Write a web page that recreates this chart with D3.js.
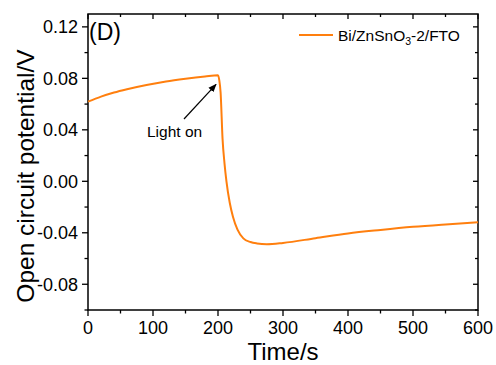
<!DOCTYPE html>
<html>
<head>
<meta charset="utf-8">
<script src="https://d3js.org/d3.v7.min.js"></script>
<style>
  body { margin: 0; background: #fff; }
  svg { display: block; font-family: "Liberation Sans", Arial, sans-serif; }
</style>
</head>
<body>
<div id="chart"></div>
<script>
// data
const time = [0, 20, 40, 60, 90, 120, 150, 180, 200, 202, 204, 207, 210, 213, 218, 223, 230, 239, 250, 260, 275, 300, 350, 400, 450, 500, 550, 600];
const potential = [0.0619, 0.0658, 0.0690, 0.0716, 0.0749, 0.0776, 0.0797, 0.0815, 0.0825, 0.0785, 0.0690, 0.0330, 0.0140, 0.0000, -0.0165, -0.0275, -0.0375, -0.0443, -0.0472, -0.0483, -0.0489, -0.0479, -0.0442, -0.0405, -0.0378, -0.0354, -0.0335, -0.0318];
const xTicks = [0, 100, 200, 300, 400, 500, 600];
const yTicks = [-0.08, -0.04, 0.00, 0.04, 0.08, 0.12];

const W = 496, H = 365;
const m = { left: 88, right: 18, top: 14, bottom: 55 };

const svg = d3.select("#chart").append("svg")
    .attr("width", W)
    .attr("height", H);

const x = d3.scaleLinear().domain([0, 600]).range([m.left, W - m.right]);
const y = d3.scaleLinear().domain([-0.10, 0.13]).range([H - m.bottom, m.top]);

const x0 = x.range()[0], x1 = x.range()[1];
const y0 = y.range()[0], y1 = y.range()[1];

// minor ticks
const xMinor = d3.range(50, 600, 100);
const yMinor = d3.range(-0.10, 0.13, 0.04).map(d => +(d).toFixed(2));

const g = svg.append("g").attr("stroke", "#000").attr("stroke-width", 1.3);

// bottom axis ticks (outward)
xTicks.forEach(t => g.append("line").attr("x1", x(t)).attr("x2", x(t)).attr("y1", y0).attr("y2", y0 + 6));
xMinor.forEach(t => g.append("line").attr("x1", x(t)).attr("x2", x(t)).attr("y1", y0).attr("y2", y0 + 3.5));
// top ticks (inward)
xTicks.forEach(t => g.append("line").attr("x1", x(t)).attr("x2", x(t)).attr("y1", y1).attr("y2", y1 + 5));
xMinor.forEach(t => g.append("line").attr("x1", x(t)).attr("x2", x(t)).attr("y1", y1).attr("y2", y1 + 3));
// left ticks (outward)
yTicks.forEach(t => g.append("line").attr("x1", x0 - 6).attr("x2", x0).attr("y1", y(t)).attr("y2", y(t)));
yMinor.forEach(t => g.append("line").attr("x1", x0 - 3.5).attr("x2", x0).attr("y1", y(t)).attr("y2", y(t)));
// right ticks (inward)
yTicks.forEach(t => g.append("line").attr("x1", x1 - 5).attr("x2", x1).attr("y1", y(t)).attr("y2", y(t)));
yMinor.forEach(t => g.append("line").attr("x1", x1 - 3).attr("x2", x1).attr("y1", y(t)).attr("y2", y(t)));

// frame
svg.append("rect")
    .attr("x", x0).attr("y", y1)
    .attr("width", x1 - x0).attr("height", y0 - y1)
    .attr("fill", "none").attr("stroke", "#000").attr("stroke-width", 1.5);

// tick labels
svg.append("g").selectAll("text")
    .data(xTicks)
    .enter().append("text")
    .attr("x", d => x(d))
    .attr("y", y0 + 23.5)
    .attr("text-anchor", "middle")
    .attr("font-size", 18)
    .text(d => d);

svg.append("g").selectAll("text")
    .data(yTicks)
    .enter().append("text")
    .attr("x", x0 - 10)
    .attr("y", d => y(d) + 6.5)
    .attr("text-anchor", "end")
    .attr("font-size", 18)
    .text(d => d.toFixed(2));

// axis titles
svg.append("text")
    .attr("x", (x0 + x1) / 2)
    .attr("y", 360)
    .attr("text-anchor", "middle")
    .attr("font-size", 24)
    .text("Time/s");

svg.append("text")
    .attr("transform", `translate(34,${(47 + 305) / 2}) rotate(-90)`)
    .attr("text-anchor", "middle")
    .attr("font-size", 24.5)
    .text("Open circuit potential/V");

// curve
const line = d3.line()
    .x((d, i) => x(time[i]))
    .y(d => y(d))
    .curve(d3.curveMonotoneX);

svg.append("path")
    .datum(potential)
    .attr("fill", "none")
    .attr("stroke", "#FF7F0E")
    .attr("stroke-width", 2)
    .attr("d", line);

// panel label
svg.append("text")
    .attr("x", x0 + 1)
    .attr("y", 40)
    .attr("font-size", 23)
    .text("(D)");

// legend
svg.append("line")
    .attr("x1", 299).attr("x2", 333)
    .attr("y1", 35).attr("y2", 35)
    .attr("stroke", "#FF7F0E").attr("stroke-width", 2);

const leg = svg.append("text")
    .attr("x", 338)
    .attr("y", 41)
    .attr("font-size", 15.5);
leg.append("tspan").text("Bi/ZnSnO");
leg.append("tspan").attr("font-size", 10.5).attr("dy", 4).text("3");
leg.append("tspan").attr("dy", -4).text("-2/FTO");

// annotation
svg.append("defs").append("marker")
    .attr("id", "arrow")
    .attr("viewBox", "0 0 10 10")
    .attr("refX", 9).attr("refY", 5)
    .attr("markerWidth", 7).attr("markerHeight", 7)
    .attr("orient", "auto")
    .append("path")
    .attr("d", "M0,1 L10,5 L0,9 Z")
    .attr("fill", "#000");

svg.append("line")
    .attr("x1", 184).attr("y1", 119)
    .attr("x2", x(197)).attr("y2", y(0.0815) + 8)
    .attr("stroke", "#000").attr("stroke-width", 1.2)
    .attr("marker-end", "url(#arrow)");

svg.append("text")
    .attr("x", 147)
    .attr("y", 137)
    .attr("font-size", 15.5)
    .text("Light on");
</script>
</body>
</html>
